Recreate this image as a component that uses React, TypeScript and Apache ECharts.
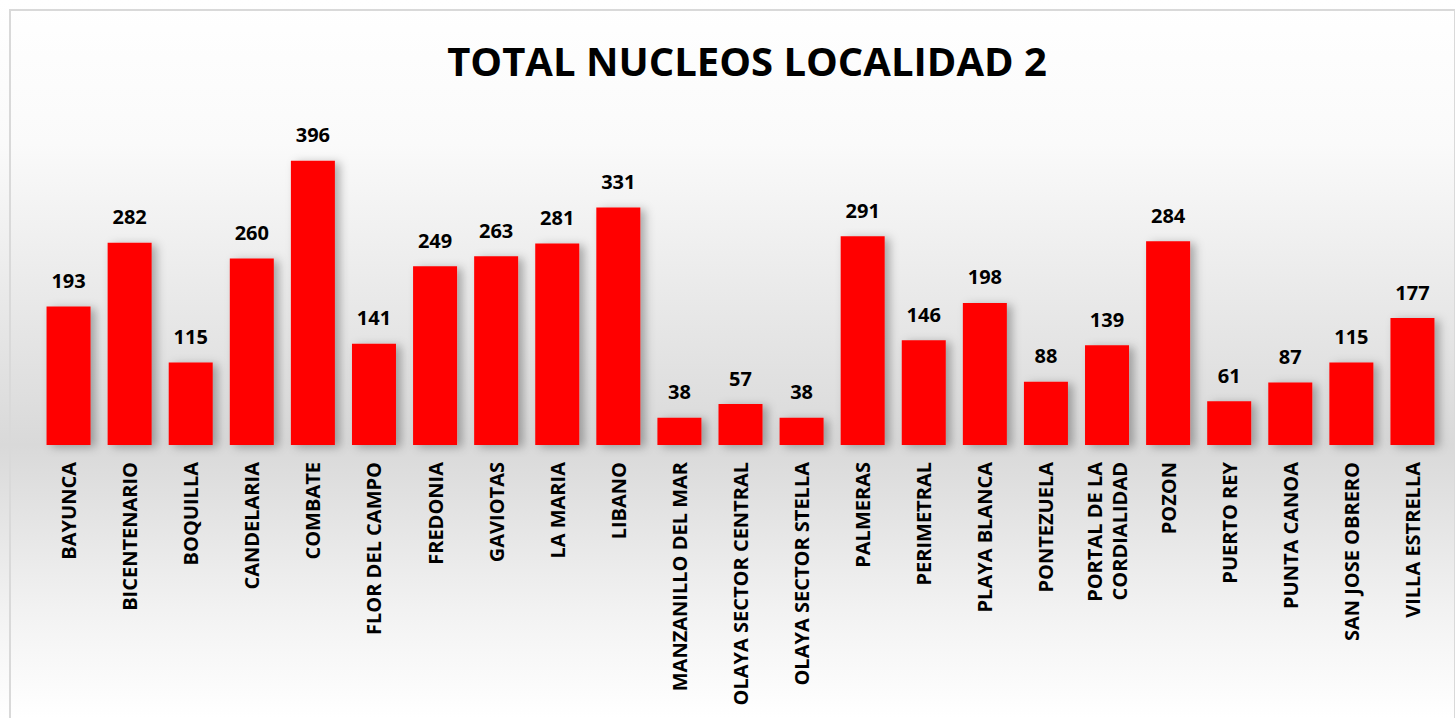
import React, { useEffect, useRef } from "react";
import * as echarts from "echarts";

const categories = [
  "BAYUNCA",
  "BICENTENARIO",
  "BOQUILLA",
  "CANDELARIA",
  "COMBATE",
  "FLOR DEL CAMPO",
  "FREDONIA",
  "GAVIOTAS",
  "LA MARIA",
  "LIBANO",
  "MANZANILLO DEL MAR",
  "OLAYA SECTOR CENTRAL",
  "OLAYA SECTOR STELLA",
  "PALMERAS",
  "PERIMETRAL",
  "PLAYA BLANCA",
  "PONTEZUELA",
  "PORTAL DE LA\nCORDIALIDAD",
  "POZON",
  "PUERTO REY",
  "PUNTA CANOA",
  "SAN JOSE OBRERO",
  "VILLA ESTRELLA",
];

const values = [193, 282, 115, 260, 396, 141, 249, 263, 281, 331, 38, 57, 38, 291, 146, 198, 88, 139, 284, 61, 87, 115, 177];

const title = "TOTAL NUCLEOS LOCALIDAD 2";
const FONT = "'Open Sans', 'Noto Sans', sans-serif";

export default function App() {
  const ref = useRef<HTMLDivElement>(null);
  useEffect(() => {
    if (!ref.current) return;
    const chart = echarts.init(ref.current, null, { renderer: "svg" });
    chart.setOption({
      animation: false,
      backgroundColor: {
        type: "linear",
        x: 0,
        y: 0,
        x2: 0,
        y2: 1,
        colorStops: [
          { offset: 0, color: "#ffffff" },
          { offset: 0.2, color: "#fafafa" },
          { offset: 0.62, color: "#d9d9d9" },
          { offset: 0.85, color: "#f2f2f2" },
          { offset: 1, color: "#ffffff" },
        ],
      },
      title: {
        text: title,
        left: 742,
        textAlign: "center",
        top: 35,
        textStyle: {
          fontFamily: FONT,
          fontWeight: "bold",
          fontSize: 40,
          color: "#000000",
        },
      },
      graphic: [
        {
          type: "rect",
          shape: { x: 10, y: 10, width: 1445, height: 720 },
          style: { fill: "none", stroke: "#d9d9d9", lineWidth: 2 },
          silent: true,
        },
      ],
      grid: { left: 38, right: 12, top: 158, bottom: 273, containLabel: false },
      xAxis: {
        type: "category",
        data: categories,
        axisLine: { show: false },
        axisTick: { show: false },
        axisLabel: {
          rotate: 90,
          interval: 0,
          margin: 17,
          fontFamily: FONT,
          fontWeight: "bold",
          fontSize: 20,
          color: "#000000",
          lineHeight: 25,
        },
      },
      yAxis: {
        type: "value",
        min: 0,
        max: 400,
        show: false,
        splitLine: { show: false },
      },
      series: [
        {
          type: "bar",
          data: values,
          barWidth: 44,
          itemStyle: {
            color: "#ff0000",
            shadowColor: "rgba(0,0,0,0.3)",
            shadowBlur: 10,
            shadowOffsetX: 5,
            shadowOffsetY: 2,
          },
          label: {
            show: true,
            position: "top",
            distance: 16,
            fontFamily: FONT,
            fontWeight: "bold",
            fontSize: 20,
            color: "#000000",
          },
        },
      ],
    });
    return () => chart.dispose();
  }, []);
  return (
    <div
      ref={ref}
      style={{ position: "fixed", left: 0, top: 0, width: 1455, height: 718 }}
    />
  );
}
